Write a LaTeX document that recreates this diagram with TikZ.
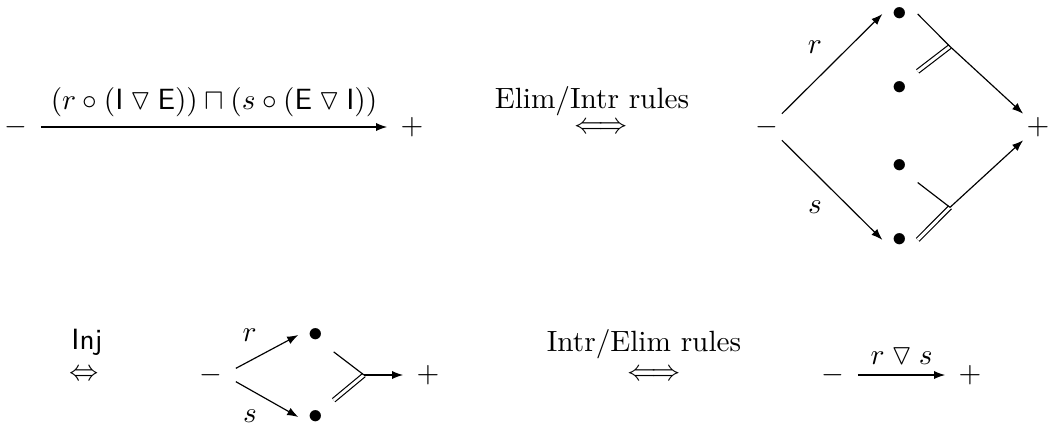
\documentclass[tikz,border=0pt]{standalone}
\usepackage{amsmath,amssymb}
\usepackage{tikz}
\usetikzlibrary{arrows.meta}

\newcommand{\junc}{\mathbin{\triangledown}}

\begin{document}
\begin{tikzpicture}[
                >={Latex[length=3.8pt, width=2.8pt]},
                sgn/.style  ={inner sep=4.4pt},
                dsgn/.style ={inner sep=1pt},
                bul/.style  ={inner sep=3.33pt},
                dbl/.style  ={double, double distance=1pt},
                rul/.style  ={anchor=base, inner sep=0pt},
                eqv/.style  ={inner sep=0pt}
            ]
            \useasboundingbox (0,0) rectangle (12.588,5.208);

            %% ---- TOP LEFT: one arrow, meet of the two composites ------------
            \node[sgn] (m1) at (0.192,3.684) {$-$};
            \node[sgn] (p1) at (4.944,3.684) {$+$};
            \draw[->] (m1) -- node[above]
            {$(r\circ(\mathsf{I}\junc\mathsf{E}))\sqcap(s\circ(\mathsf{E}\junc\mathsf{I}))$}
            (p1);

            \node[rul] (t1) at (7.104,3.91) {Elim/Intr rules};
            \node[eqv] (e1) at (7.212,3.672) {$\Longleftrightarrow$};

            %% ---- TOP RIGHT: diamond with two junctions -----------------------
            \node[dsgn] (mD) at (9.204,3.684) {$-$};
            \node[dsgn] (pD) at (12.456,3.684) {$+$};
            \node[bul] (b1) at (10.8,5.04) {$\bullet$};
            \node[bul] (b2) at (10.8,4.15) {$\bullet$};
            \node[bul] (b3) at (10.8,3.22) {$\bullet$};
            \node[bul] (b4) at (10.8,2.33) {$\bullet$};
            \coordinate (j1) at (11.4,4.65);
            \coordinate (j2) at (11.4,2.72);
            \draw[->] (mD.north east) -- node[above left] {$r$} (b1.west);
            \draw[->] (mD.south east) -- node[below left] {$s$} (b4.west);
            \draw[dbl] (b2.north east) -- (j1);
            \draw[dbl] (b4.east) -- (j2);
            \draw (b1.east) -- (j1);
            \draw[->] (j1) -- (pD.north west);
            \draw (b3.south east) -- (j2);
            \draw[->] (j2) -- (pD.south west);

            %% ---- BOTTOM LEFT: injections, one junction -----------------------
            \node[rul] (t2) at (1.044,1.01) {\textsf{Inj}};
            \node[eqv] (e2) at (1.008,0.708) {$\Leftrightarrow$};
            \node[sgn] (mS) at (2.532,0.708) {$-$};
            \node[sgn] (pS) at (5.136,0.708) {$+$};
            \node[bul] (bA) at (3.792,1.188) {$\bullet$};
            \node[bul] (bB) at (3.792,0.204) {$\bullet$};
            \coordinate (j3) at (4.368,0.708);
            \draw[->] (mS.15) -- node[above left] {$r$} (bA.west);
            \draw[->] (mS.-15) -- node[below left] {$s$} (bB.west);
            \draw[dbl] (bB.north east) -- (j3);
            \draw (bA.south east) -- (j3);
            \draw[->] (j3) -- (pS);

            %% ---- BOTTOM RIGHT: the junction as one arrow ---------------------
            \node[rul] (t3) at (7.728,0.99) {Intr/Elim rules};
            \node[eqv] (e3) at (7.848,0.708) {$\Longleftrightarrow$};
            \node[sgn] (mR) at (9.996,0.708) {$-$};
            \node[sgn] (pR) at (11.64,0.708) {$+$};
            \draw[->] (mR) -- node[above] {$r\junc s$} (pR);

        \end{tikzpicture}
\end{document}
